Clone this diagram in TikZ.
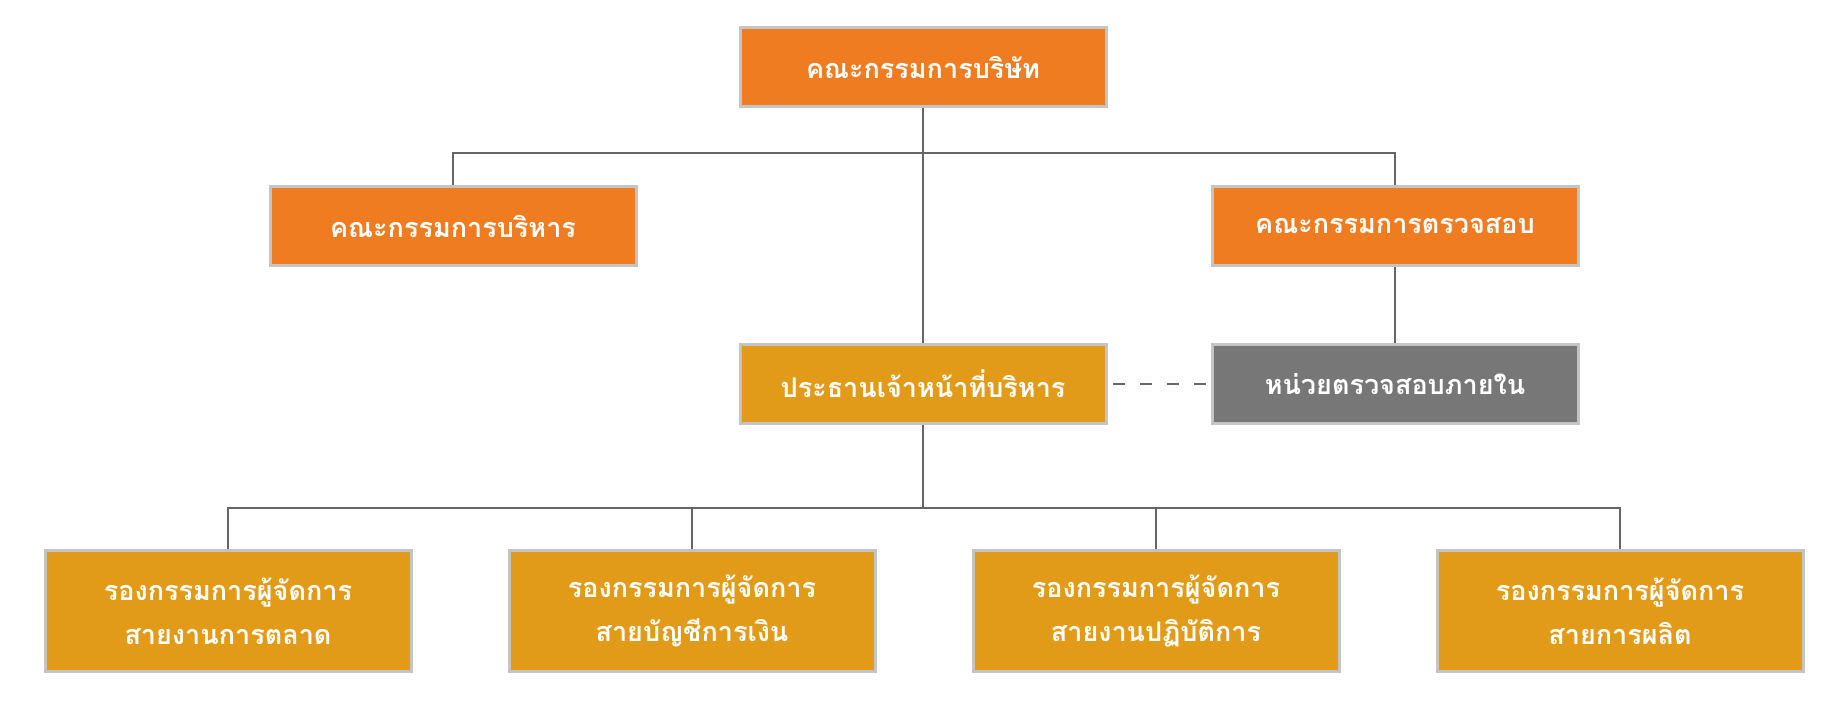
\documentclass[tikz,border=0pt]{standalone}
\usepackage{fontspec}
\newfontfamily\thaifont[Script=Thai]{Loma}
\usetikzlibrary{positioning}
\definecolor{boardorange}{HTML}{F07C22}
\definecolor{staffgold}{HTML}{E29B18}
\definecolor{auditgray}{HTML}{777777}
\definecolor{framegray}{HTML}{C4C4C4}
\definecolor{linkgray}{HTML}{666666}

\begin{document}
\begin{tikzpicture}[x=0.5pt, y=-0.5pt,
  unit/.style={draw=framegray, line width=1.5pt, text=white,
    minimum width=183pt, minimum height=39.5pt, inner sep=0pt,
    align=center, font=\thaifont\bfseries\fontsize{13.5}{22}\selectfont},
  boardunit/.style={unit, fill=boardorange},
  staffunit/.style={unit, fill=staffgold},
  auditunit/.style={unit, fill=auditgray},
  vpunit/.style={staffunit, minimum height=60.5pt},
  link/.style={draw=linkgray, line width=0.9pt}]
  \useasboundingbox (0,0) rectangle (1848,717);
\node[boardunit] (board) at (923,67) {คณะกรรมการบริษัท};
\node[boardunit] (exec) at (453,226) {คณะกรรมการบริหาร};
\node[boardunit] (audit) at (1395,226) {คณะกรรมการตรวจสอบ};
\node[staffunit] (ceo) at (923,384) {ประธานเจ้าหน้าที่บริหาร};
\node[auditunit] (internal) at (1395,384) {หน่วยตรวจสอบภายใน};
\node[vpunit] (vp1) at (228,611) {รองกรรมการผู้จัดการ\\ สายงานการตลาด};
\node[vpunit] (vp2) at (692,611) {รองกรรมการผู้จัดการ\\ สายบัญชีการเงิน};
\node[vpunit] (vp3) at (1156,611) {รองกรรมการผู้จัดการ\\ สายงานปฏิบัติการ};
\node[vpunit] (vp4) at (1620,611) {รองกรรมการผู้จัดการ\\ สายการผลิต};
% upper bus
\coordinate (topbus) at (923,153);
\draw[link] (board.south) -- (ceo.north);
\draw[link] (exec.north) |- (topbus) -| (audit.north);
\draw[link] (audit.south) -- (internal.north);
\draw[link, dash pattern=on 6pt off 7.5pt, shorten <=2.75pt, shorten >=2.25pt]%
 (ceo.east) -- (internal.west);
% lower bus
\coordinate (lowbus) at (923,508);
\draw[link] (ceo.south) -- (lowbus);
\draw[link] (vp1.north) |- (lowbus) -| (vp4.north);
\draw[link] (vp2.north) |- (lowbus);
\draw[link] (vp3.north) |- (lowbus);
    \end{tikzpicture}
\end{document}
